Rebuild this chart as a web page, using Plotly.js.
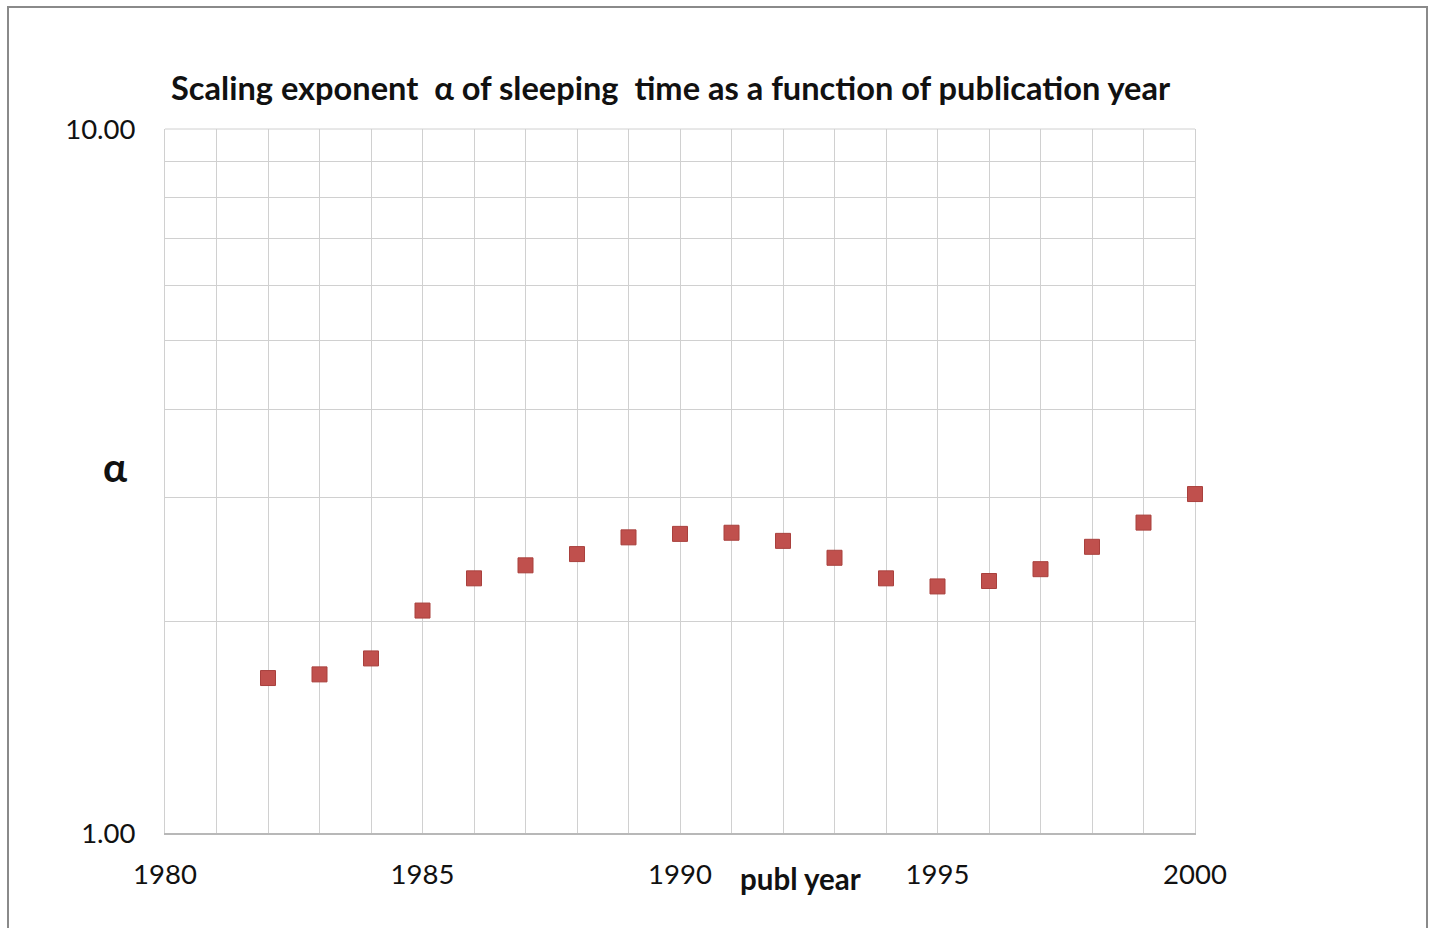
<!DOCTYPE html>
<html>
<head>
<meta charset="utf-8">
<script src="https://cdn.plot.ly/plotly-3.0.1.min.js"></script>
<style>
html,body{margin:0;padding:0;background:#fff;}
#chart{width:1431px;height:928px;}
</style>
</head>
<body>
<div id="chart"></div>
<script>
// Data
const years = [1982,1983,1984,1985,1986,1987,1988,1989,1990,1991,1992,1993,1994,1995,1996,1997,1998,1999,2000];
const alphaValues = [1.66,1.68,1.77,2.07,2.30,2.40,2.49,2.63,2.66,2.67,2.60,2.46,2.30,2.24,2.28,2.37,2.55,2.76,3.03];
const yTickVals = [1,2,3,4,5,6,7,8,9,10];
const yTickText = ['1.00','','','','','','','','','10.00'];
const xTickVals = [1980,1981,1982,1983,1984,1985,1986,1987,1988,1989,1990,1991,1992,1993,1994,1995,1996,1997,1998,1999,2000];
const xTickText = ['1980','','','','','1985','','','','','1990','','','','','1995','','','','','2000'];
const titleText = 'Scaling exponent \u00a0\u03b1 of sleeping \u00a0time as a function of publication year';
const xTitleText = 'publ year';
const yTitleText = '\u03b1';

const FONT = 'Lato, "Open Sans", sans-serif';
const W = 1431, H = 928;
const mL = 165, mR = 236, mT = 129, mB = 95;
const pw = W - mL - mR, ph = H - mT - mB;
const px = v => (v - mL) / pw;
const py = v => (H - mB - v) / ph;
const GRID = '#d0d0d0';

const trace = {
  x: years, y: alphaValues, type: 'scatter', mode: 'markers', cliponaxis: false,
  marker: {symbol: 'square', size: 15, color: '#c0504d', line: {color: '#a9403d', width: 1}},
  hoverinfo: 'x+y'
};

const layout = {
  width: W, height: H,
  margin: {l: mL, r: mR, t: mT, b: mB, pad: 0},
  paper_bgcolor: '#ffffff', plot_bgcolor: '#ffffff',
  showlegend: false,
  font: {family: FONT, color: '#000'},
  xaxis: {
    range: [1980, 2000], tickmode: 'array', tickvals: xTickVals, ticktext: xTickText,
    showgrid: true, gridcolor: GRID, gridwidth: 1,
    showline: true, linecolor: '#b8b8b8', linewidth: 1.5, layer: 'below traces',
    ticks: '', zeroline: false, ticklabelstandoff: 16,
    tickfont: {family: FONT, size: 27.5, color: '#111'}, fixedrange: true
  },
  yaxis: {
    type: 'log', range: [0, 1], tickmode: 'array', tickvals: yTickVals, ticktext: yTickText,
    showgrid: true, gridcolor: GRID, gridwidth: 1,
    showline: true, linecolor: GRID, linewidth: 1, mirror: true, layer: 'below traces',
    ticks: '', zeroline: false, ticklabelstandoff: 23,
    tickfont: {family: FONT, size: 27.5, color: '#111'}, fixedrange: true
  },
  annotations: [
    {text: '<b>' + titleText + '</b>', xref: 'paper', yref: 'paper', x: px(671), y: py(87),
     xanchor: 'center', yanchor: 'middle', showarrow: false, font: {family: FONT, size: 32.6, color: '#111'}},
    {text: '<b>' + xTitleText + '</b>', xref: 'paper', yref: 'paper', x: px(800), y: py(878),
     xanchor: 'center', yanchor: 'middle', showarrow: false, font: {family: FONT, size: 29.5, color: '#111'}},
    {text: '<b>' + yTitleText + '</b>', xref: 'paper', yref: 'paper', x: px(115), y: py(467),
     xanchor: 'center', yanchor: 'middle', showarrow: false, font: {family: FONT, size: 40, color: '#111'}}
  ],
  shapes: [
    {type: 'rect', xref: 'paper', yref: 'paper', x0: px(8), x1: px(1427), y0: py(7), y1: py(940),
     line: {color: '#8a8a8a', width: 2}, fillcolor: 'rgba(0,0,0,0)', layer: 'below'},
    {type: 'line', xref: 'paper', yref: 'paper', x0: 0, x1: 1, y0: 1, y1: 1,
     line: {color: GRID, width: 1}, layer: 'below'}
  ]
};

Plotly.newPlot('chart', [trace], layout, {displayModeBar: false, staticPlot: true});
</script>
</body>
</html>
